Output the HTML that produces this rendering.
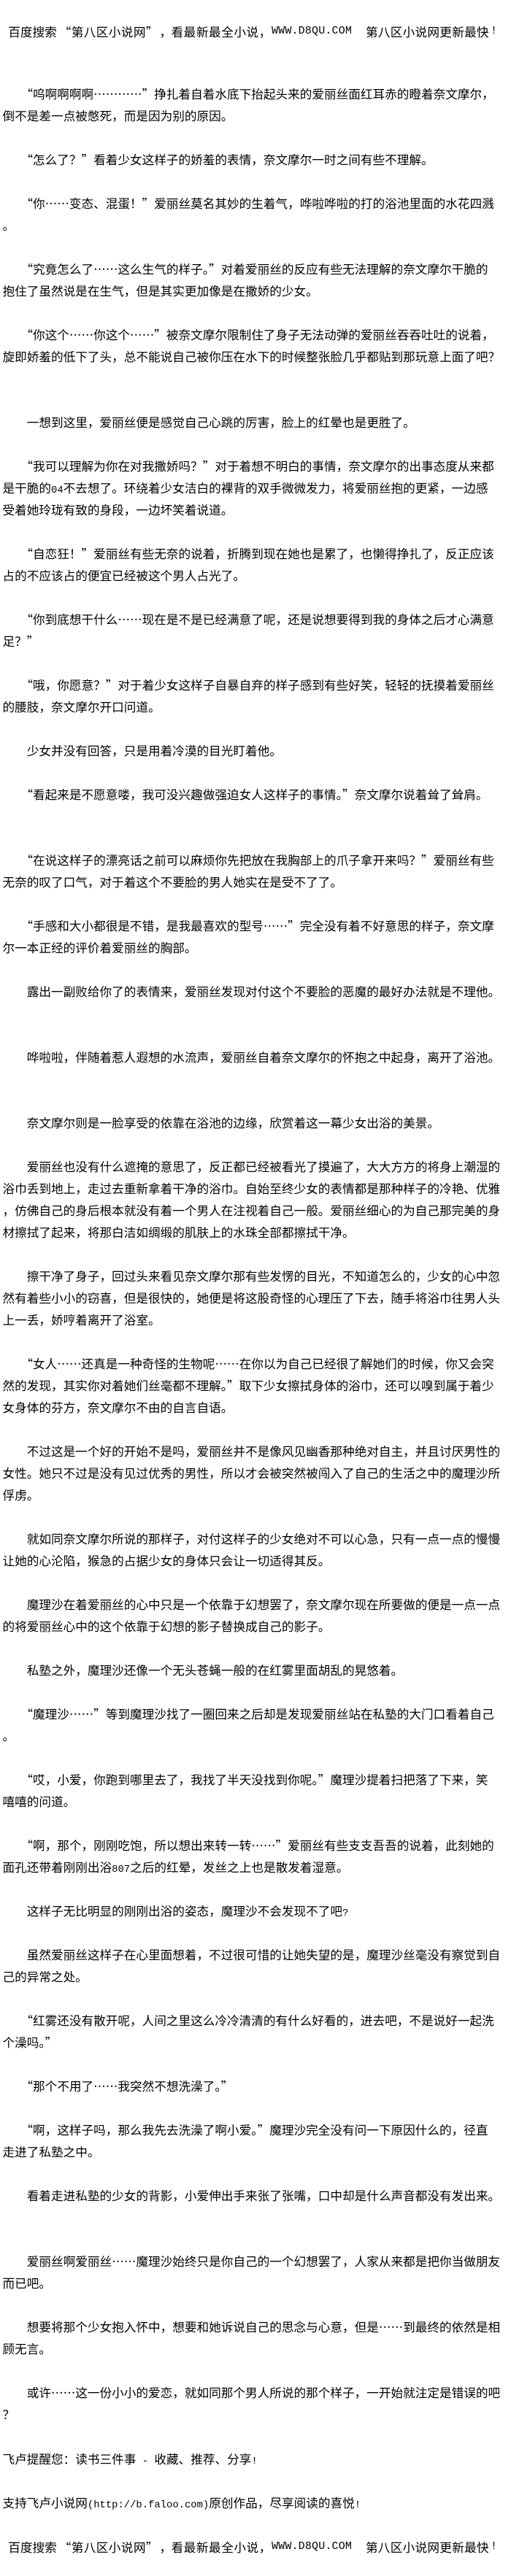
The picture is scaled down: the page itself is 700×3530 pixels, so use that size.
<!DOCTYPE html>
<html lang="zh-CN">
<head>
<meta charset="utf-8">
<title>第八区小说网</title>
<style>
html,body{margin:0;padding:0;background:#fff;}
body{width:700px;height:3530px;position:relative;overflow:hidden;color:#000;font-family:"Noto Sans CJK SC","WenQuanYi Zen Hei",sans-serif;font-size:16.64px;line-height:30px;}
.l{position:absolute;left:3.5px;height:30px;white-space:pre;}
.h{position:absolute;left:0;width:700px;height:30px;white-space:pre;}
.h span{position:absolute;top:0;letter-spacing:.4px;}
.h span.w{font-family:"Liberation Mono",monospace;font-size:15px;letter-spacing:.17px;}
.m{font-family:"Liberation Mono",monospace;font-size:13.87px;}
</style>
</head>
<body>
<div class="h" style="top:28px"><span style="left:11.3px;letter-spacing:0">百度搜索</span><span style="left:80.7px">“第八区小说网”</span><span style="left:218.5px">，</span><span style="left:234.5px;letter-spacing:.55px">看最新最全小说，</span><span class="w" style="left:372px">WWW.D8QU.COM</span><span style="left:501px;letter-spacing:.26px">第八区小说网更新最快</span><span class="w" style="left:672px">!</span></div>
<div class="l" style="top:113px">　　“呜啊啊啊啊…………”挣扎着自着水底下抬起头来的爱丽丝面红耳赤的瞪着奈文摩尔，</div>
<div class="l" style="top:143px">倒不是差一点被憋死，而是因为别的原因。</div>
<div class="l" style="top:203px">　　“怎么了？”看着少女这样子的娇羞的表情，奈文摩尔一时之间有些不理解。</div>
<div class="l" style="top:263px">　　“你……变态、混蛋！”爱丽丝莫名其妙的生着气，哗啦哗啦的打的浴池里面的水花四溅</div>
<div class="l" style="top:293px">。</div>
<div class="l" style="top:353px">　　“究竟怎么了……这么生气的样子。”对着爱丽丝的反应有些无法理解的奈文摩尔干脆的</div>
<div class="l" style="top:383px">抱住了虽然说是在生气，但是其实更加像是在撒娇的少女。</div>
<div class="l" style="top:443px">　　“你这个……你这个……”被奈文摩尔限制住了身子无法动弹的爱丽丝吞吞吐吐的说着，</div>
<div class="l" style="top:473px">旋即娇羞的低下了头，总不能说自己被你压在水下的时候整张脸几乎都贴到那玩意上面了吧？</div>
<div class="l" style="top:563px">　　一想到这里，爱丽丝便是感觉自己心跳的厉害，脸上的红晕也是更胜了。</div>
<div class="l" style="top:623px">　　“我可以理解为你在对我撒娇吗？”对于着想不明白的事情，奈文摩尔的出事态度从来都</div>
<div class="l" style="top:653px">是干脆的<span class="m">04</span>不去想了。环绕着少女洁白的裸背的双手微微发力，将爱丽丝抱的更紧，一边感</div>
<div class="l" style="top:683px">受着她玲珑有致的身段，一边坏笑着说道。</div>
<div class="l" style="top:743px">　　“自恋狂！”爱丽丝有些无奈的说着，折腾到现在她也是累了，也懒得挣扎了，反正应该</div>
<div class="l" style="top:773px">占的不应该占的便宜已经被这个男人占光了。</div>
<div class="l" style="top:833px">　　“你到底想干什么……现在是不是已经满意了呢，还是说想要得到我的身体之后才心满意</div>
<div class="l" style="top:863px">足？”</div>
<div class="l" style="top:923px">　　“哦，你愿意？”对于着少女这样子自暴自弃的样子感到有些好笑，轻轻的抚摸着爱丽丝</div>
<div class="l" style="top:953px">的腰肢，奈文摩尔开口问道。</div>
<div class="l" style="top:1013px">　　少女并没有回答，只是用着冷漠的目光盯着他。</div>
<div class="l" style="top:1073px">　　“看起来是不愿意喽，我可没兴趣做强迫女人这样子的事情。”奈文摩尔说着耸了耸肩。</div>
<div class="l" style="top:1163px">　　“在说这样子的漂亮话之前可以麻烦你先把放在我胸部上的爪子拿开来吗？”爱丽丝有些</div>
<div class="l" style="top:1193px">无奈的叹了口气，对于着这个不要脸的男人她实在是受不了了。</div>
<div class="l" style="top:1253px">　　“手感和大小都很是不错，是我最喜欢的型号……”完全没有着不好意思的样子，奈文摩</div>
<div class="l" style="top:1283px">尔一本正经的评价着爱丽丝的胸部。</div>
<div class="l" style="top:1343px">　　露出一副败给你了的表情来，爱丽丝发现对付这个不要脸的恶魔的最好办法就是不理他。</div>
<div class="l" style="top:1433px">　　哗啦啦，伴随着惹人遐想的水流声，爱丽丝自着奈文摩尔的怀抱之中起身，离开了浴池。</div>
<div class="l" style="top:1523px">　　奈文摩尔则是一脸享受的依靠在浴池的边缘，欣赏着这一幕少女出浴的美景。</div>
<div class="l" style="top:1583px">　　爱丽丝也没有什么遮掩的意思了，反正都已经被看光了摸遍了，大大方方的将身上潮湿的</div>
<div class="l" style="top:1613px">浴巾丢到地上，走过去重新拿着干净的浴巾。自始至终少女的表情都是那种样子的冷艳、优雅</div>
<div class="l" style="top:1643px">，仿佛自己的身后根本就没有着一个男人在注视着自己一般。爱丽丝细心的为自己那完美的身</div>
<div class="l" style="top:1673px">材擦拭了起来，将那白洁如绸缎的肌肤上的水珠全部都擦拭干净。</div>
<div class="l" style="top:1733px">　　擦干净了身子，回过头来看见奈文摩尔那有些发愣的目光，不知道怎么的，少女的心中忽</div>
<div class="l" style="top:1763px">然有着些小小的窃喜，但是很快的，她便是将这股奇怪的心理压了下去，随手将浴巾往男人头</div>
<div class="l" style="top:1793px">上一丢，娇哼着离开了浴室。</div>
<div class="l" style="top:1853px">　　“女人……还真是一种奇怪的生物呢……在你以为自己已经很了解她们的时候，你又会突</div>
<div class="l" style="top:1883px">然的发现，其实你对着她们丝毫都不理解。”取下少女擦拭身体的浴巾，还可以嗅到属于着少</div>
<div class="l" style="top:1913px">女身体的芬方，奈文摩尔不由的自言自语。</div>
<div class="l" style="top:1973px">　　不过这是一个好的开始不是吗，爱丽丝并不是像风见幽香那种绝对自主，并且讨厌男性的</div>
<div class="l" style="top:2003px">女性。她只不过是没有见过优秀的男性，所以才会被突然被闯入了自己的生活之中的魔理沙所</div>
<div class="l" style="top:2033px">俘虏。</div>
<div class="l" style="top:2093px">　　就如同奈文摩尔所说的那样子，对付这样子的少女绝对不可以心急，只有一点一点的慢慢</div>
<div class="l" style="top:2123px">让她的心沦陷，猴急的占据少女的身体只会让一切适得其反。</div>
<div class="l" style="top:2183px">　　魔理沙在着爱丽丝的心中只是一个依靠于幻想罢了，奈文摩尔现在所要做的便是一点一点</div>
<div class="l" style="top:2213px">的将爱丽丝心中的这个依靠于幻想的影子替换成自己的影子。</div>
<div class="l" style="top:2273px">　　私塾之外，魔理沙还像一个无头苍蝇一般的在红雾里面胡乱的晃悠着。</div>
<div class="l" style="top:2333px">　　“魔理沙……”等到魔理沙找了一圈回来之后却是发现爱丽丝站在私塾的大门口看着自己</div>
<div class="l" style="top:2363px">。</div>
<div class="l" style="top:2423px">　　“哎，小爱，你跑到哪里去了，我找了半天没找到你呢。”魔理沙提着扫把落了下来，笑</div>
<div class="l" style="top:2453px">嘻嘻的问道。</div>
<div class="l" style="top:2513px">　　“啊，那个，刚刚吃饱，所以想出来转一转……”爱丽丝有些支支吾吾的说着，此刻她的</div>
<div class="l" style="top:2543px">面孔还带着刚刚出浴<span class="m">807</span>之后的红晕，发丝之上也是散发着湿意。</div>
<div class="l" style="top:2603px">　　这样子无比明显的刚刚出浴的姿态，魔理沙不会发现不了吧<span class="m">?</span></div>
<div class="l" style="top:2663px">　　虽然爱丽丝这样子在心里面想着，不过很可惜的让她失望的是，魔理沙丝毫没有察觉到自</div>
<div class="l" style="top:2693px">己的异常之处。</div>
<div class="l" style="top:2753px">　　“红雾还没有散开呢，人间之里这么冷冷清清的有什么好看的，进去吧，不是说好一起洗</div>
<div class="l" style="top:2783px">个澡吗。”</div>
<div class="l" style="top:2843px">　　“那个不用了……我突然不想洗澡了。”</div>
<div class="l" style="top:2903px">　　“啊，这样子吗，那么我先去洗澡了啊小爱。”魔理沙完全没有问一下原因什么的，径直</div>
<div class="l" style="top:2933px">走进了私塾之中。</div>
<div class="l" style="top:2993px">　　看着走进私塾的少女的背影，小爱伸出手来张了张嘴，口中却是什么声音都没有发出来。</div>
<div class="l" style="top:3083px">　　爱丽丝啊爱丽丝……魔理沙始终只是你自己的一个幻想罢了，人家从来都是把你当做朋友</div>
<div class="l" style="top:3113px">而已吧。</div>
<div class="l" style="top:3173px">　　想要将那个少女抱入怀中，想要和她诉说自己的思念与心意，但是……到最终的依然是相</div>
<div class="l" style="top:3203px">顾无言。</div>
<div class="l" style="top:3263px">　　或许……这一份小小的爱恋，就如同那个男人所说的那个样子，一开始就注定是错误的吧</div>
<div class="l" style="top:3293px">？</div>
<div class="l" style="top:3354px">飞卢提醒您：读书三件事<span class="m"> - </span>收藏、推荐、分享<span class="m">!</span></div>
<div class="l" style="top:3414px">支持飞卢小说网<span class="m">(http://b.faloo.com)</span>原创作品，尽享阅读的喜悦<span class="m">!</span></div>
<div class="h" style="top:3475px"><span style="left:11.3px;letter-spacing:0">百度搜索</span><span style="left:80.7px">“第八区小说网”</span><span style="left:218.5px">，</span><span style="left:234.5px;letter-spacing:.55px">看最新最全小说，</span><span class="w" style="left:372px">WWW.D8QU.COM</span><span style="left:501px;letter-spacing:.26px">第八区小说网更新最快</span><span class="w" style="left:672px">!</span></div>
</body>
</html>
